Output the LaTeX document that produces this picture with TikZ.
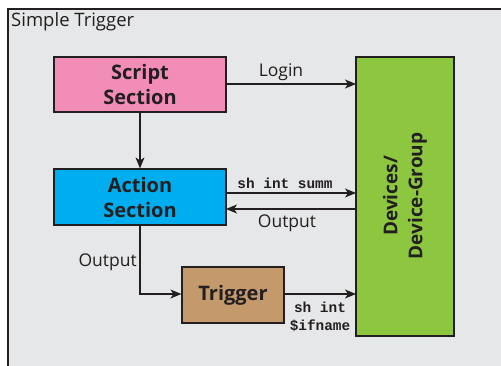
\documentclass[tikz,border=0pt]{standalone}
\usepackage{fontspec}
\setmainfont{Open Sans}
\setmonofont{Liberation Mono}
\usetikzlibrary{arrows.meta}
\definecolor{bggray}{HTML}{E6E7E8}
\definecolor{edge}{HTML}{231F20}
\definecolor{pinkbox}{HTML}{F28DB8}
\definecolor{bluebox}{HTML}{00AEEF}
\definecolor{tanbox}{HTML}{C4996B}
\definecolor{greenbox}{HTML}{8DC63F}
\tikzset{
  block/.style={draw=edge, line width=1.2pt, inner sep=0pt, align=center,
    font=\fontsize{20}{25}\selectfont\bfseries, text=edge},
  conn/.style={draw=edge, line width=1.2pt, -{Stealth[length=11pt,width=9pt,inset=3pt]}},
  lbl/.style={font=\fontsize{17.5}{19}\selectfont, text=edge, inner sep=0pt},
  code/.style={font=\fontsize{14.4}{18}\selectfont\ttfamily\bfseries, text=edge, inner sep=0pt, align=center},
}
\begin{document}
\begin{tikzpicture}[x=1pt,y=-1pt]
\useasboundingbox (0,0) rectangle (501,365);
\clip (0,0) rectangle (501,365);
\fill[white] (0,0) rectangle (501,365);
\draw[fill=bggray, draw=edge, line width=1.6pt] (8,9) rectangle (520,380);
\node[lbl, font=\fontsize{18.5}{20}\selectfont, anchor=west] (title) at (11,22) {Simple Trigger};

\node[block, fill=pinkbox, minimum width=172pt, minimum height=55pt] (script) at (140,84.5) {Script\\Section};
\node[block, fill=bluebox, minimum width=172pt, minimum height=56pt] (action) at (140,197) {Action\\Section};
\node[block, fill=tanbox, minimum width=102pt, minimum height=56pt] (trigger) at (233,295) {Trigger};
\node[block, fill=greenbox, minimum width=98pt, minimum height=279pt] (dev) at (405,196.5) {};
\node[font=\fontsize{19}{25}\selectfont\bfseries, text=edge, align=center, rotate=90] (devtext) at (405,196) {Devices/\\Device-Group};

\coordinate (a1) at (226,84);
\coordinate (a2) at (356,84);
\draw[conn] (a1) -- (a2);
\node[lbl] (login) at (281,72) {Login};

\draw[conn] (script.south) -- (action.north);

\coordinate (b1) at (226,193);
\coordinate (b2) at (356,193);
\draw[conn] (b1) -- (b2);
\node[code] (summ) at (285,183) {sh int summ};

\coordinate (c1) at (356,209);
\coordinate (c2) at (226,209);
\draw[conn] (c1) -- (c2);
\node[lbl] (out1) at (287,223) {Output};

\coordinate (d1) at (140,294);
\draw[conn] (action.south) -- (d1) -- (d1 -| trigger.west);
\node[lbl, anchor=east] (out2) at (137,262) {Output};

\coordinate (e1) at (284,294);
\coordinate (e2) at (356,294);
\draw[conn] (e1) -- (e2);
\node[code] (ifn) at (320,317) {sh int\\\$ifname};
\end{tikzpicture}
\end{document}
